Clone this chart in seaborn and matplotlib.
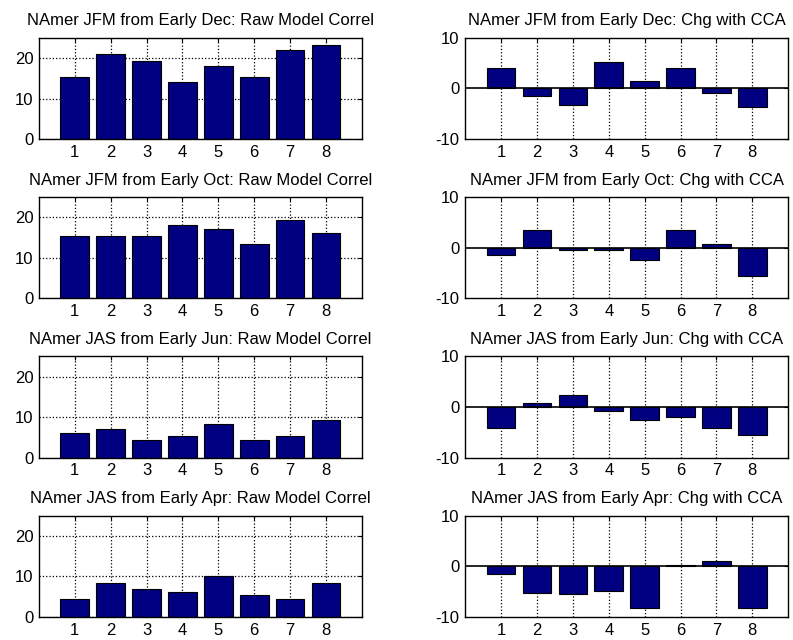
import numpy as np
import pandas as pd
import matplotlib
matplotlib.use('Agg')
import matplotlib.pyplot as plt
import seaborn as sns

members = [1, 2, 3, 4, 5, 6, 7, 8]

raw_titles = ['NAmer JFM from Early Dec: Raw Model Correl',
              'NAmer JFM from Early Oct: Raw Model Correl',
              'NAmer JAS from Early Jun: Raw Model Correl',
              'NAmer JAS from Early Apr: Raw Model Correl']
chg_titles = ['NAmer JFM from Early Dec: Chg with CCA',
              'NAmer JFM from Early Oct: Chg with CCA',
              'NAmer JAS from Early Jun: Chg with CCA',
              'NAmer JAS from Early Apr: Chg with CCA']

raw_dec = [15.4, 21.1, 19.3, 14.0, 18.0, 15.4, 21.9, 23.2]
raw_oct = [15.3, 15.3, 15.3, 18.0, 17.1, 13.3, 19.3, 16.2]
raw_jun = [6.2, 7.0, 4.3, 5.3, 8.3, 4.3, 5.3, 9.2]
raw_apr = [4.4, 8.3, 7.0, 6.1, 10.1, 5.3, 4.4, 8.3]

chg_dec = [4.1, -1.5, -3.3, 5.2, 1.4, 4.1, -0.85, -3.6]
chg_oct = [-1.5, 3.5, -0.5, -0.5, -2.5, 3.5, 0.8, -5.6]
chg_jun = [-4.2, 0.7, 2.4, -0.8, -2.5, -1.9, -4.2, -5.5]
chg_apr = [-1.5, -5.2, -5.5, -4.8, -8.2, 0.3, 1.0, -8.2]

raw_sets = [raw_dec, raw_oct, raw_jun, raw_apr]
chg_sets = [chg_dec, chg_oct, chg_jun, chg_apr]

sns.set_style('white')
plt.rcParams['font.family'] = ['Liberation Sans', 'DejaVu Sans']
plt.rcParams['axes.unicode_minus'] = False

bar_color = '#000080'

fig, axes = plt.subplots(4, 2, figsize=(7.93, 6.4), dpi=100)
fig.subplots_adjust(left=0.049, right=0.994, bottom=0.036, top=0.941,
                    wspace=0.32, hspace=0.57)


def style_axis(ax, ylim, yticks):
    ax.set_xlim(0, 9)
    ax.set_ylim(*ylim)
    ax.set_xticks(members)
    ax.set_xticklabels([str(m) for m in members])
    ax.set_yticks(yticks)
    ax.set_xlabel('')
    ax.set_ylabel('')
    ax.tick_params(direction='in', length=3, top=True, right=True,
                   labelsize=12, colors='black', pad=4)
    for s in ax.spines.values():
        s.set_visible(True)
        s.set_color('black')
        s.set_linewidth(1)
    ax.set_axisbelow(True)


for i in range(4):
    ax = axes[i, 0]
    df = pd.DataFrame({'member': members, 'value': raw_sets[i]})
    sns.barplot(data=df, x='member', y='value', native_scale=True, width=0.8,
                color=bar_color, saturation=1, edgecolor='black', linewidth=0.8,
                ax=ax)
    style_axis(ax, (0, 25), [0, 10, 20])
    ax.grid(True, linestyle=':', color='black', linewidth=0.9)
    ax.set_title(raw_titles[i], fontsize=12, pad=9, color='black')

    ax = axes[i, 1]
    df = pd.DataFrame({'member': members, 'value': chg_sets[i]})
    sns.barplot(data=df, x='member', y='value', native_scale=True, width=0.8,
                color=bar_color, saturation=1, edgecolor='black', linewidth=0.8,
                ax=ax)
    style_axis(ax, (-10, 10), [-10, 0, 10])
    ax.grid(True, axis='x', linestyle=':', color='black', linewidth=0.9)
    ax.axhline(0, color='black', linewidth=1.2)
    ax.set_title(chg_titles[i], fontsize=12, pad=9, color='black')

fig.savefig('out.png', dpi=100)
